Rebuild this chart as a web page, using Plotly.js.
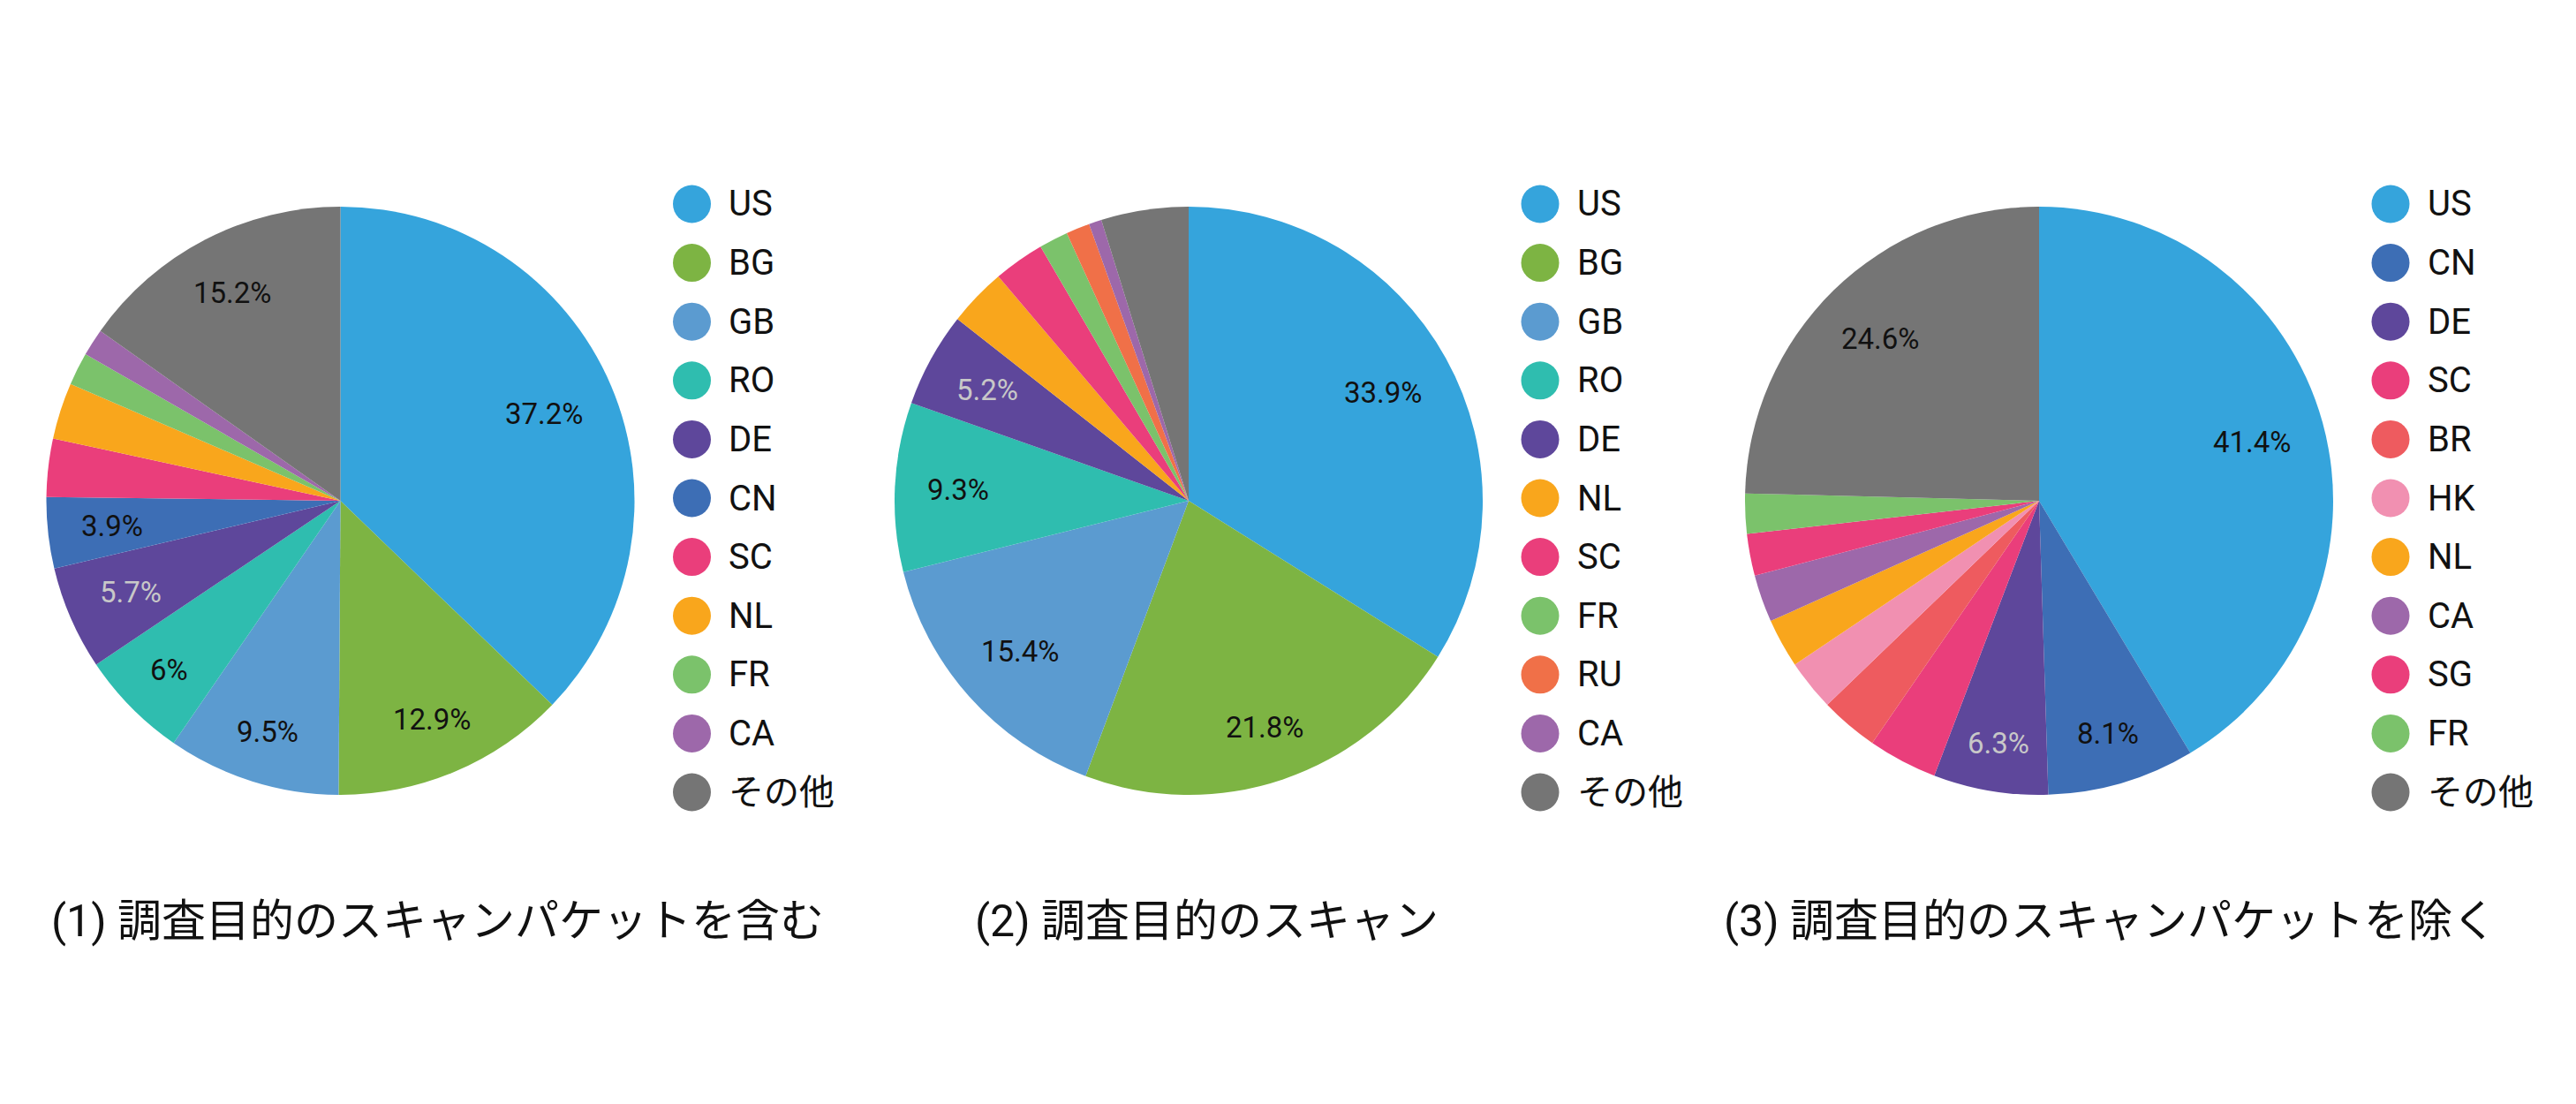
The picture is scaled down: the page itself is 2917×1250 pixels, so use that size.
<!DOCTYPE html>
<html>
<head>
<meta charset="utf-8">
<script src="https://cdn.plot.ly/plotly-3.0.1.min.js"></script>
<style>
  html, body { margin: 0; padding: 0; background: #ffffff; }
  #chart { width: 2917px; height: 1250px; }
</style>
</head>
<body>
<div id="chart"></div>
<script>
// ===== データ =====
const labels1 = ['US', 'BG', 'GB', 'RO', 'DE', 'CN', 'SC', 'NL', 'FR', 'CA', 'その他'];
const values1 = [37.2, 12.9, 9.5, 6, 5.7, 3.9, 3.2, 3.1, 1.8, 1.5, 15.2];
const shown1 = ['US', 'BG', 'GB', 'RO', 'DE', 'CN', 'その他'];
const title1 = '(1) 調査目的のスキャンパケットを含む';

const labels2 = ['US', 'BG', 'GB', 'RO', 'DE', 'NL', 'SC', 'FR', 'RU', 'CA', 'その他'];
const values2 = [33.9, 21.8, 15.4, 9.3, 5.2, 3.2, 2.8, 1.6, 1.3, 0.7, 4.8];
const shown2 = ['US', 'BG', 'GB', 'RO', 'DE'];
const title2 = '(2) 調査目的のスキャン';

const labels3 = ['US', 'CN', 'DE', 'SC', 'BR', 'HK', 'NL', 'CA', 'SG', 'FR', 'その他'];
const values3 = [41.4, 8.1, 6.3, 3.8, 3.2, 2.8, 2.7, 2.6, 2.3, 2.2, 24.6];
const shown3 = ['US', 'CN', 'DE', 'その他'];
const title3 = '(3) 調査目的のスキャンパケットを除く';

const COLORS = {
  'US': '#35a4dc',
  'BG': '#7db443',
  'GB': '#5b9bd0',
  'RO': '#2fbdaf',
  'DE': '#5e479b',
  'CN': '#3d6eb5',
  'SC': '#ea3e7b',
  'NL': '#f9a61c',
  'FR': '#7bc26b',
  'CA': '#9d68aa',
  'RU': '#f07048',
  'BR': '#ee5b5f',
  'HK': '#f190b1',
  'SG': '#ea3e7b',
  'その他': '#757575',
};

const FONT = 'Roboto, "Noto Sans CJK JP", sans-serif';
const W = 2917, H = 1250;
const PIE_R = 333, PIE_CY = 567;
const LABEL_R = 0.89;           // ラベル外縁の半径（PIE_R 比）
const LABEL_SIZE = 33;
const LEG_DX = 398, LEG_TEXT_DX = 438, LEG_Y0 = 231, LEG_STEP = 66.6, LEG_R = 21.5;
const TITLE_Y = 1043;

const PANELS = [
  { labels: labels1, values: values1, shown: shown1, title: title1, cx: 385.5, titleX: 56 },
  { labels: labels2, values: values2, shown: shown2, title: title2, cx: 1346, titleX: 1102 },
  { labels: labels3, values: values3, shown: shown3, title: title3, cx: 2309, titleX: 1950 },
];

const px = x => x / W;
const py = y => 1 - y / H;

function luminance(hex) {
  const n = parseInt(hex.slice(1), 16);
  return 0.2126 * (n >> 16) + 0.7152 * ((n >> 8) & 255) + 0.0722 * (n & 255);
}

const ctx = document.createElement('canvas').getContext('2d');
ctx.font = LABEL_SIZE + 'px Roboto';

const traces = [];
const shapes = [];
const annotations = [];

PANELS.forEach(p => {
  const cols = p.labels.map(l => COLORS[l]);
  traces.push({
    type: 'pie',
    labels: p.labels,
    values: p.values,
    sort: false,
    direction: 'clockwise',
    rotation: 0,
    textinfo: 'none',
    marker: { colors: cols, line: { width: 0 } },
    showlegend: false,
    hoverinfo: 'label+percent',
    domain: {
      x: [px(p.cx - PIE_R), px(p.cx + PIE_R)],
      y: [py(PIE_CY + PIE_R), py(PIE_CY - PIE_R)],
    },
  });

  // パーセント表示（スライス中央の角度、外縁に沿って配置）
  const total = p.values.reduce((a, b) => a + b, 0);
  let cum = 0;
  p.values.forEach((v, i) => {
    const mid = (cum + v / 2) / total * 2 * Math.PI;
    cum += v;
    if (!p.shown.includes(p.labels[i])) return;
    const txt = v + '%';
    const hw = ctx.measureText(txt).width / 2;
    const hh = LABEL_SIZE * 0.36;
    const s = Math.sin(mid), c = Math.cos(mid);
    const r = LABEL_R * PIE_R - (hw * Math.abs(s) + hh * Math.abs(c));
    annotations.push({
      xref: 'paper', yref: 'paper',
      x: px(p.cx + r * s), y: py(PIE_CY - r * c),
      xanchor: 'center', yanchor: 'middle',
      text: txt, showarrow: false,
      font: {
        family: FONT, size: LABEL_SIZE,
        color: luminance(cols[i]) < 95 ? '#c8c8c8' : '#111111',
      },
    });
  });

  // 凡例（丸マーカー + ラベル）
  p.labels.forEach((l, i) => {
    const y = LEG_Y0 + i * LEG_STEP;
    const x = p.cx + LEG_DX;
    shapes.push({
      type: 'circle', xref: 'paper', yref: 'paper',
      x0: px(x - LEG_R), x1: px(x + LEG_R),
      y0: py(y + LEG_R), y1: py(y - LEG_R),
      fillcolor: COLORS[l], line: { width: 0 },
    });
    annotations.push({
      xref: 'paper', yref: 'paper',
      x: px(p.cx + LEG_TEXT_DX), y: py(y),
      xanchor: 'left', yanchor: 'middle',
      text: l, showarrow: false,
      font: { family: FONT, size: 40, color: '#111111' },
    });
  });

  annotations.push({
    xref: 'paper', yref: 'paper',
    x: px(p.titleX), y: py(TITLE_Y),
    xanchor: 'left', yanchor: 'middle',
    text: p.title, showarrow: false,
    font: { family: FONT, size: 50, color: '#111111' },
  });
});

const layout = {
  width: W, height: H,
  paper_bgcolor: '#ffffff',
  margin: { l: 0, r: 0, t: 0, b: 0 },
  font: { family: FONT, color: '#111111' },
  showlegend: false,
  shapes: shapes,
  annotations: annotations,
};

Plotly.newPlot('chart', traces, layout, { displayModeBar: false, staticPlot: true });
</script>
</body>
</html>
